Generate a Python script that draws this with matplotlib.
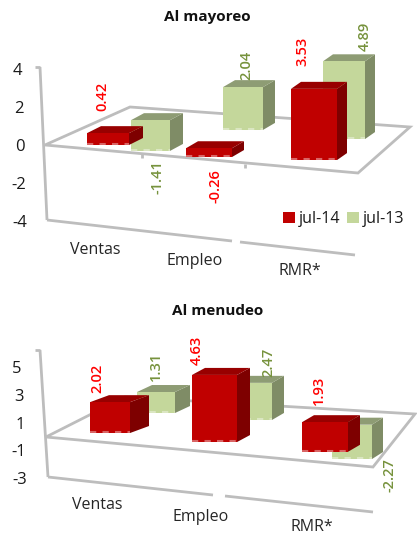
import matplotlib
matplotlib.use("Agg")
import matplotlib.pyplot as plt
from matplotlib.patches import Polygon, Patch
from matplotlib.transforms import Affine2D, ScaledTranslation, IdentityTransform

plt.rcParams['font.family'] = ['Open Sans', 'DejaVu Sans']
plt.rcParams['axes.unicode_minus'] = False

# ---- data ----
categories = ['Ventas', 'Empleo', 'RMR*']
series_names = ['jul-14', 'jul-13']
mayoreo_jul14 = [0.42, -0.26, 3.53]
mayoreo_jul13 = [-1.41, 2.04, 4.89]
menudeo_jul14 = [2.02, 4.63, 1.93]
menudeo_jul13 = [1.31, 2.47, -2.27]
mayoreo_ticks = [4, 2, 0, -2, -4]
menudeo_ticks = [5, 3, 1, -1, -3]

# ---- layout of the pseudo-3D scene (pixels unless noted) ----
W, H = 417, 534
RED = dict(front='#C00000', top='#980000', side='#7E0000')
GRN = dict(front='#C4D79B', top='#8E9C74', side='#7F8C66')
FRAME = '#BDBDBD'
PAD = 0.2   # thickness the 3D box adds to every bar, in value units

top_layout = dict(
    span=(0, 285), zero=145, scale=19.1,
    x14=[87, 186, 291], w14=[42, 46, 46], dx14=[14, 12, 10], base14=[0, -0.63, -0.79],
    x13=[131, 223, 323], w13=[39, 40, 42], dx13=[13, 12, 10], base13=[-0.31, 0.79, 0.31],
    fore13=[1, 1, 0.8], dy=7,
    axis=[(40, 67), (47, 220)],
    floor=[(45, 145), (130, 107), (410, 127), (358, 173)],
    bottom=[[(47, 220), (232, 241)], [(240, 242), (355, 255)]],
    ticks=[[(142, 154), (142, 158)], [(245, 164), (245, 168)]],
    lab14=[(102, 96), (215, 186), (302, 51)],
    lab13=[(157, 177), (246, 65), (365, 36)],
    cats=[(95, 250), (195, 261), (300, 271)],
    title=(207, 17), shift=[-3, -1, 0, 1, 2])

low_layout = dict(
    span=(290, 534), zero=436.5, scale=13.9,
    x14=[90, 192, 302], w14=[40, 45, 46], dx14=[19, 13, 12], base14=[0.25, -0.4, -1.1],
    x13=[137, 232, 332], w13=[38, 40, 40], dx13=[15, 12, 11], base13=[1.69, 1.19, -1.62],
    fore13=[1, 1, 1], dy=7,
    axis=[(40, 350), (48, 477)],
    floor=[(46, 437), (125, 397), (415, 414), (373, 467)],
    bottom=[[(48, 477), (213, 495)], [(225, 496), (373, 512)]],
    ticks=[],
    lab14=[(97, 378), (197, 350), (319, 390)],
    lab13=[(156, 366), (268, 362), (390, 475)],
    cats=[(97, 505), (201, 517), (312, 527)],
    title=(218, 311), shift=[-3, -1, 0, 1, 2])

LEFT = 36
fig = plt.figure(figsize=(W / 100, H / 100), dpi=100)
px = Affine2D().scale(1, -1).translate(0, H)   # picture pixels -> display


def box(ax, x, w, dx, base, value, fore, dy_px, scale, col, z):
    height = (abs(value) + PAD) * fore
    top = base + height
    dy = dy_px / scale
    ax.add_patch(Polygon([(x + w, base), (x + w + dx, base + dy), (x + w + dx, top + dy), (x + w, top)],
                         closed=True, fc=col['side'], ec='none', zorder=z))
    ax.add_patch(Polygon([(x, top), (x + w, top), (x + w + dx, top + dy), (x + dx, top + dy)],
                         closed=True, fc=col['top'], ec='none', zorder=z))
    ax.add_patch(Polygon([(x, base), (x + w, base), (x + w, top), (x, top)],
                         closed=True, fc=col['front'], ec='none', zorder=z))
    ax.plot([x, x + w], [base + 1 / scale] * 2, color='white', alpha=0.4, lw=1.5,
            dashes=(3, 3), zorder=z + 0.1, solid_capstyle='butt')


def chart(title, s14, s13, ticks, L):
    t, b = L['span']
    ax = fig.add_axes([LEFT / W, 1 - b / H, 1 - LEFT / W, (b - t) / H])
    ax.set_xlim(LEFT, W)
    ax.set_ylim((L['zero'] - b) / L['scale'], (L['zero'] - t) / L['scale'])
    for s in ax.spines.values():
        s.set_visible(False)
    ax.patch.set_alpha(0)
    ax.set_xticks([])
    ax.set_yticks(ticks)
    ax.tick_params(axis='y', length=0, pad=8, labelsize=12, labelcolor='#1a1a1a')
    for lab, sh in zip(ax.get_yticklabels(), L['shift']):
        lab.set_transform(lab.get_transform() + ScaledTranslation(sh / 100, 0, fig.dpi_scale_trans))

    line = dict(color=FRAME, lw=2, transform=px, zorder=2, clip_on=False, solid_capstyle='butt')
    ax.plot(*zip(*L['axis']), **line)
    ax.plot([L['axis'][0][0] - 5, L['axis'][0][0]], [L['axis'][0][1]] * 2, **line)
    ax.add_patch(Polygon(L['floor'], closed=True, fc='white', ec=FRAME, lw=2, transform=px, zorder=2))
    for seg in L['bottom'] + L['ticks']:
        ax.plot(*zip(*seg), **line)

    for i in range(len(categories)):
        box(ax, L['x13'][i], L['w13'][i], L['dx13'][i], L['base13'][i], s13[i],
            L['fore13'][i], L['dy'], L['scale'], GRN, 3)
    for i in range(len(categories)):
        box(ax, L['x14'][i], L['w14'][i], L['dx14'][i], L['base14'][i], s14[i],
            1, L['dy'], L['scale'], RED, 4)

    lab = dict(transform=px, rotation=90, ha='center', va='center', fontsize=10.5,
               fontweight='semibold', zorder=5)
    for v, (x, y) in zip(s14, L['lab14']):
        ax.text(x, y, f'{v:.2f}', color='#FF0000', **lab)
    for v, (x, y) in zip(s13, L['lab13']):
        ax.text(x, y, f'{v:.2f}', color='#76923C', **lab)
    for c, (x, y) in zip(categories, L['cats']):
        ax.text(x, y, c, transform=px, ha='center', va='center', fontsize=11.5, color='#262626')
    ax.text(*L['title'], title, transform=px, ha='center', va='center', fontsize=11,
            fontweight='bold', color='#111111')
    return ax


ax1 = chart('Al mayoreo', mayoreo_jul14, mayoreo_jul13, mayoreo_ticks, top_layout)
ax2 = chart('Al menudeo', menudeo_jul14, menudeo_jul13, menudeo_ticks, low_layout)

handles = [Patch(fc=RED['front'], ec='none'), Patch(fc=GRN['front'], ec='none')]
ax1.legend(handles, series_names, ncol=2, frameon=False, fontsize=11.5,
           handlelength=0.75, handleheight=0.65, handletextpad=0.25, columnspacing=0.4,
           borderpad=0, borderaxespad=0, labelcolor='#1a1a1a',
           loc='center left', bbox_to_anchor=(283, H - 219), bbox_transform=IdentityTransform())

fig.savefig('out.png', dpi=100)
